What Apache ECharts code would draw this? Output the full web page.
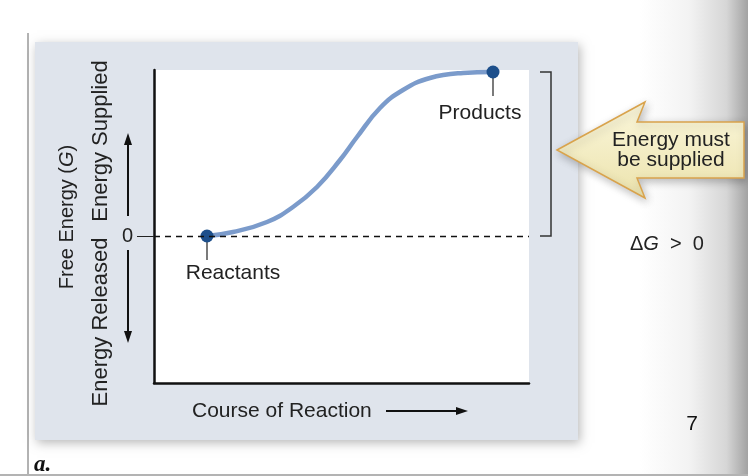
<!DOCTYPE html>
<html>
<head>
<meta charset="utf-8">
<script src="https://cdn.jsdelivr.net/npm/echarts@6/dist/echarts.min.js"></script>
<style>
  html, body { margin: 0; padding: 0; background: #fff; }
  #chart { width: 748px; height: 476px; }
</style>
</head>
<body>
<div id="chart"></div>
<script>
// free energy curve (x: course of reaction, y: free energy, 0 = reactants)
const curveX = [53, 79, 113, 139, 163, 186, 203, 226, 249, 276, 309, 339];
const curveY = [0, 4, 14, 29, 49, 76, 99, 128, 146, 158, 163, 164];

// the two end states
const stateNames = ['Reactants', 'Products'];
const stateX = [53, 339];
const stateY = [0, 164];

const yTicks = [0];
const yRange = [-147, 166];
const xRange = [0, 375];

const FONT = '"Liberation Sans", Arial, Helvetica, sans-serif';
const INK = '#222222';

const chartDom = document.getElementById('chart');
const myChart = echarts.init(chartDom);

const curveData = curveX.map((x, i) => [x, curveY[i]]);
const stateData = stateNames.map((name, i) => ({
  name: name,
  value: [stateX[i], stateY[i]],
  label: { offset: i === 0 ? [26, 3] : [-13, 7] }
}));

const option = {
  animation: false,
  grid: {
    left: 154, right: 219, top: 70, bottom: 93,
    show: true, backgroundColor: '#ffffff', borderWidth: 0
  },
  xAxis: {
    type: 'value', min: xRange[0], max: xRange[1],
    axisLine: { show: true, onZero: false, lineStyle: { color: '#111', width: 2.5 } },
    axisTick: { show: false },
    axisLabel: { show: false },
    splitLine: { show: false }
  },
  yAxis: {
    type: 'value', min: yRange[0], max: yRange[1],
    axisLine: { show: true, onZero: false, lineStyle: { color: '#111', width: 2.5 } },
    axisTick: { show: true, customValues: yTicks, length: 17, lineStyle: { color: '#222', width: 1 } },
    axisLabel: { show: true, customValues: yTicks, margin: 21, color: INK, fontSize: 20, fontFamily: FONT },
    splitLine: { show: false }
  },
  series: [
    {
      name: 'Free Energy',
      type: 'line',
      data: curveData,
      smooth: 0.45,
      symbol: 'none',
      clip: false,
      lineStyle: { color: '#7b9bcb', width: 4.5 },
      markLine: {
        silent: true,
        symbol: ['none', 'none'],
        label: { show: false },
        lineStyle: { color: '#111', width: 1.3, type: [6, 5] },
        data: [{ yAxis: 0 }]
      },
      z: 3
    },
    {
      name: 'States',
      type: 'scatter',
      data: stateData,
      symbolSize: 13,
      itemStyle: { color: '#1d4f8b', opacity: 1 },
      label: {
        show: true,
        position: 'bottom',
        distance: 17,
        formatter: '{b}',
        color: INK,
        opacity: 1,
        fontSize: 21,
        fontFamily: FONT
      },
      z: 4
    }
  ]
};
option && myChart.setOption(option);

// annotation graphics
const px = (x, y) => myChart.convertToPixel({ gridIndex: 0 }, [x, y]);
const pZero = px(xRange[1], 0);
const pTop = px(xRange[1], stateY[1]);

const graphic = [];

// right page shading
graphic.push({
  type: 'rect', z: -30, silent: true,
  shape: { x: 640, y: 0, width: 108, height: 476 },
  style: {
    fill: new echarts.graphic.LinearGradient(0, 0, 1, 0, [
      { offset: 0, color: '#ffffff' },
      { offset: 0.45, color: '#f3f3f3' },
      { offset: 0.8, color: '#d6d6d6' },
      { offset: 1, color: '#a2a2a2' }
    ])
  }
});
graphic.push({
  type: 'line', z: -20, silent: true,
  shape: { x1: 28, y1: 33, x2: 28, y2: 476 },
  style: { stroke: '#666', lineWidth: 1 }
});
graphic.push({
  type: 'line', z: -20, silent: true,
  shape: { x1: 0, y1: 475, x2: 748, y2: 475 },
  style: { stroke: '#b3b3b3', lineWidth: 2 }
});
// grey panel
graphic.push({
  type: 'rect', z: -10, silent: true,
  shape: { x: 35, y: 42, width: 543, height: 398 },
  style: { fill: '#dfe4ec', shadowBlur: 10, shadowOffsetX: 2, shadowOffsetY: 3, shadowColor: 'rgba(0,0,0,0.28)' }
});

// stems under the two states
stateNames.forEach((name, i) => {
  const p = px(stateX[i], stateY[i]);
  graphic.push({
    type: 'line', z: 1, silent: true,
    shape: { x1: p[0], y1: p[1], x2: p[0], y2: p[1] + 24 },
    style: { stroke: '#222', lineWidth: 1.2 }
  });
});

// bracket for delta G
graphic.push({
  type: 'polyline', z: 5, silent: true,
  shape: { points: [[540, pTop[1]], [551, pTop[1]], [551, pZero[1]], [540, pZero[1]]] },
  style: { stroke: '#333', lineWidth: 1.5, fill: null }
});

// y axis texts
graphic.push({
  type: 'text', z: 5, x: 67, y: 217, rotation: Math.PI / 2, silent: true,
  style: {
    text: '{n|Free Energy (}{i|G}{n|)}',
    textAlign: 'center', textVerticalAlign: 'middle',
    rich: {
      n: { fontSize: 20, fontFamily: FONT, fill: INK },
      i: { fontSize: 20, fontFamily: FONT, fontStyle: 'italic', fill: INK }
    }
  }
});
graphic.push({
  type: 'text', z: 5, x: 101, y: 141, rotation: Math.PI / 2, silent: true,
  style: { text: 'Energy Supplied', font: '22px ' + FONT, fill: INK, textAlign: 'center', textVerticalAlign: 'middle' }
});
graphic.push({
  type: 'text', z: 5, x: 101, y: 322, rotation: Math.PI / 2, silent: true,
  style: { text: 'Energy Released', font: '22px ' + FONT, fill: INK, textAlign: 'center', textVerticalAlign: 'middle' }
});
// up / down arrows
graphic.push({ type: 'line', z: 5, silent: true, shape: { x1: 128, y1: 216, x2: 128, y2: 142 }, style: { stroke: '#111', lineWidth: 2 } });
graphic.push({ type: 'polygon', z: 5, silent: true, shape: { points: [[128, 133], [124, 145], [132, 145]] }, style: { fill: '#111' } });
graphic.push({ type: 'line', z: 5, silent: true, shape: { x1: 128, y1: 250, x2: 128, y2: 334 }, style: { stroke: '#111', lineWidth: 2 } });
graphic.push({ type: 'polygon', z: 5, silent: true, shape: { points: [[128, 343], [124, 331], [132, 331]] }, style: { fill: '#111' } });

// x axis text + arrow
graphic.push({
  type: 'text', z: 5, silent: true,
  style: { text: 'Course of Reaction', x: 192, y: 411, font: '21px ' + FONT, fill: INK, textAlign: 'left', textVerticalAlign: 'middle' }
});
graphic.push({ type: 'line', z: 5, silent: true, shape: { x1: 386, y1: 411, x2: 458, y2: 411 }, style: { stroke: '#111', lineWidth: 2 } });
graphic.push({ type: 'polygon', z: 5, silent: true, shape: { points: [[468, 411], [456, 407], [456, 415]] }, style: { fill: '#111' } });

// callout arrow
graphic.push({
  type: 'polygon', z: 6, silent: true,
  shape: { points: [[557, 150], [645, 102], [637, 122], [744, 122], [744, 178], [637, 178], [645, 198]] },
  style: {
    fill: new echarts.graphic.LinearGradient(0, 0, 0, 1, [
      { offset: 0, color: '#fbf7dc' },
      { offset: 1, color: '#ece3ad' }
    ]),
    stroke: '#d9a34c', lineWidth: 1.5,
    shadowBlur: 8, shadowOffsetX: 2, shadowOffsetY: 3, shadowColor: 'rgba(0,0,0,0.25)'
  }
});
graphic.push({
  type: 'text', z: 7, silent: true,
  style: { text: 'Energy must\nbe supplied', x: 671, y: 150, font: '21px ' + FONT, lineHeight: 20, fill: INK, textAlign: 'center', textVerticalAlign: 'middle' }
});

// delta G
graphic.push({
  type: 'text', z: 7, silent: true,
  style: {
    text: '{n|Δ}{i|G}{n|  >  0}', x: 630, y: 244, textAlign: 'left', textVerticalAlign: 'middle',
    rich: {
      n: { fontSize: 20, fontFamily: FONT, fill: INK },
      i: { fontSize: 20, fontFamily: FONT, fontStyle: 'italic', fill: INK }
    }
  }
});
// page number and panel letter
graphic.push({
  type: 'text', z: 7, silent: true,
  style: { text: '7', x: 692, y: 424, font: '21px ' + FONT, fill: '#111', textAlign: 'center', textVerticalAlign: 'middle' }
});
graphic.push({
  type: 'text', z: 7, silent: true,
  style: { text: 'a.', x: 34, y: 465, font: 'italic bold 23px "Liberation Serif", "Times New Roman", serif', fill: '#111', textAlign: 'left', textVerticalAlign: 'middle' }
});

myChart.setOption({ graphic: graphic });
</script>
</body>
</html>
